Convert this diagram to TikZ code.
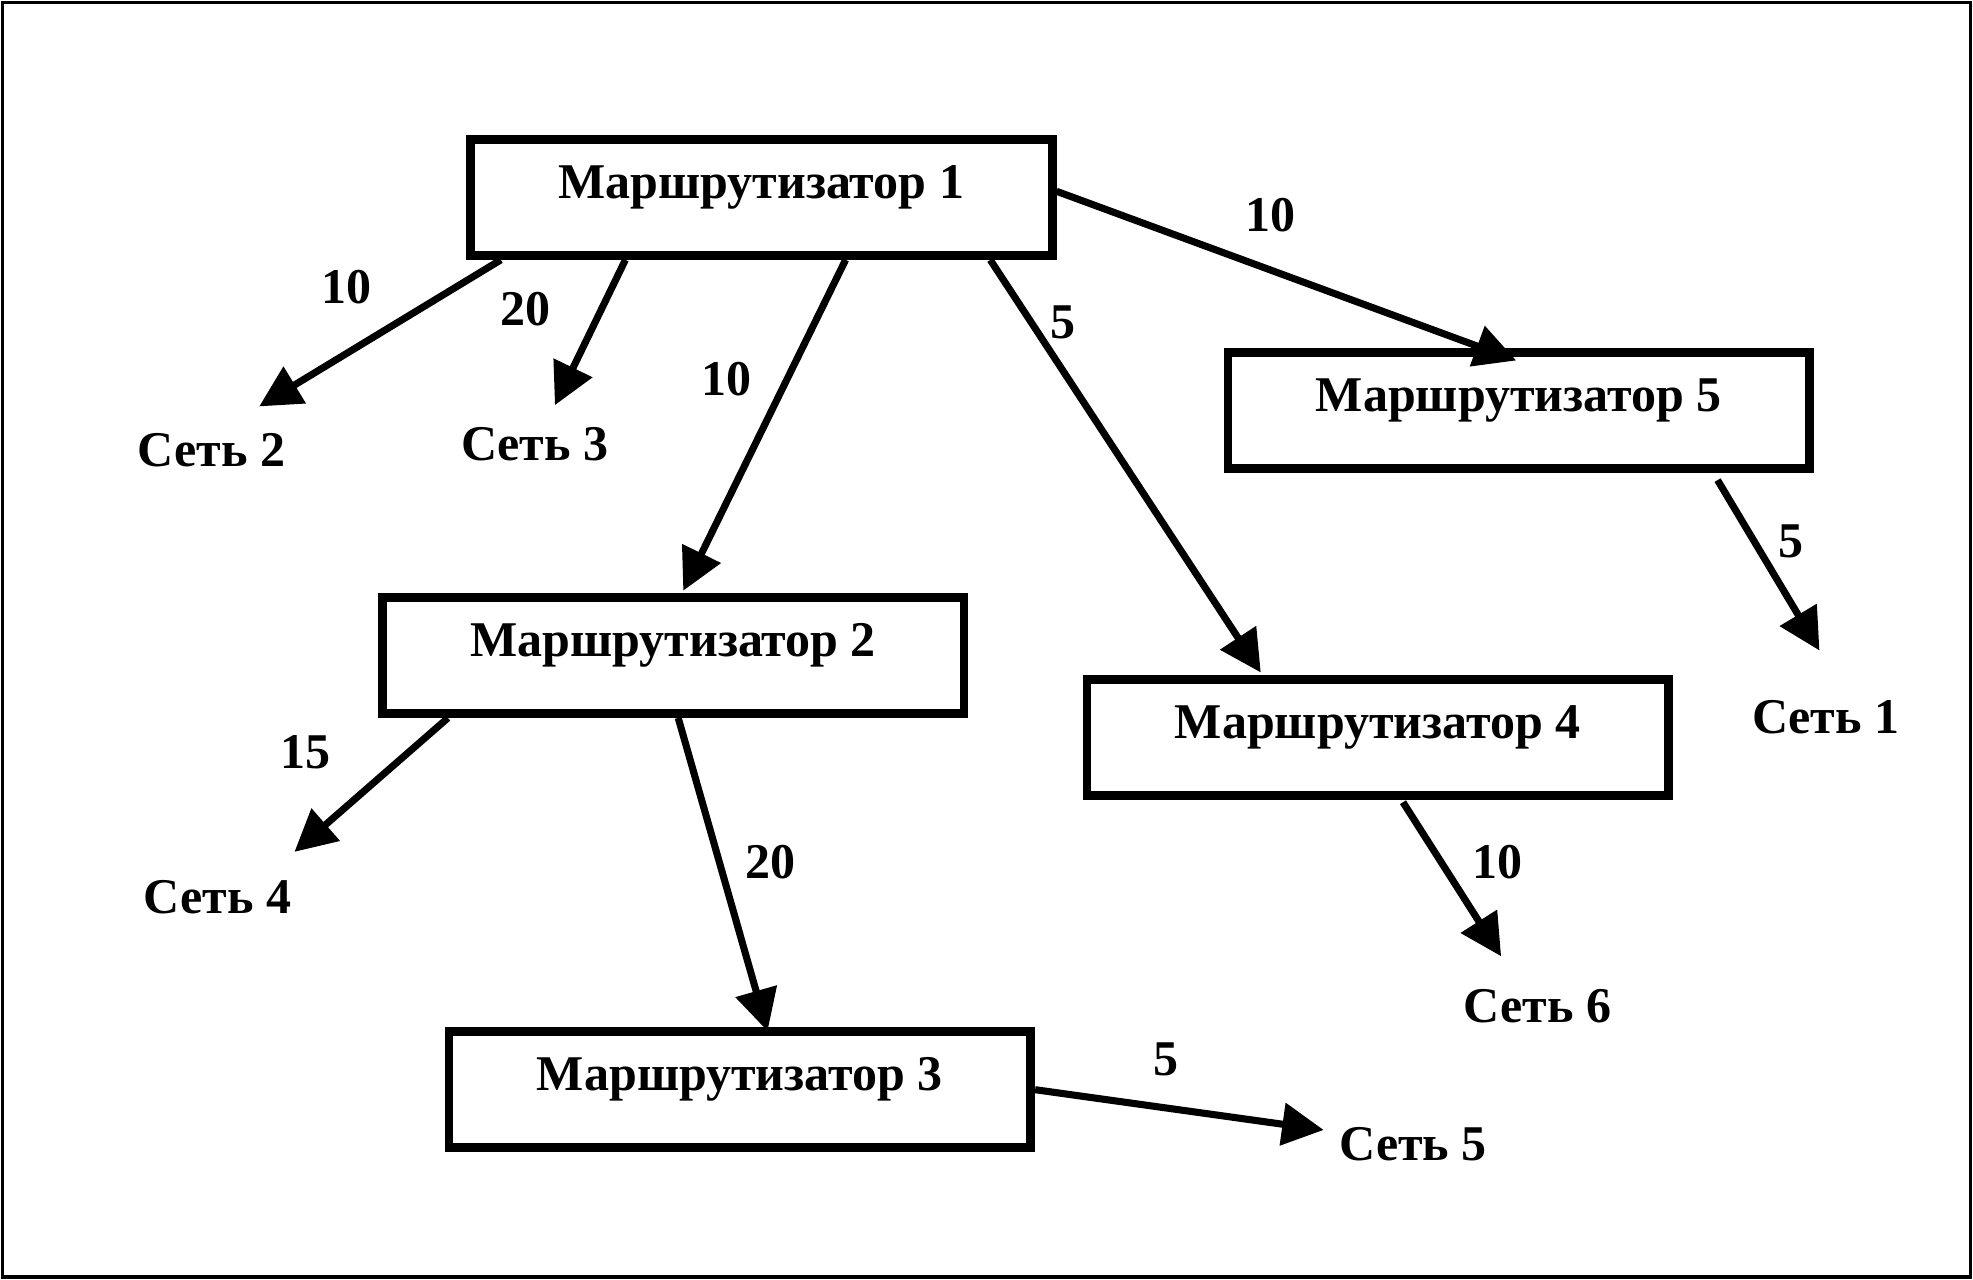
\documentclass[tikz,border=0pt]{standalone}
\usepackage{fontspec}
\setmainfont{Liberation Serif}
\usepackage{tikz}
\usetikzlibrary{arrows.meta}

\begin{document}
\begin{tikzpicture}[
  x=0.01cm, y=-0.01cm,
  router/.style={
    rectangle, minimum width=4.62cm, minimum height=0.92cm,
    draw=black, line width=2pt, text height=0.27cm, text depth=0.25cm,
    font=\fontsize{11.3pt}{13pt}\selectfont\bfseries
  },
  net/.style={font=\fontsize{11.3pt}{13pt}\selectfont\bfseries},
  arrow/.style={-{Triangle[length=0.33cm, width=0.33cm]}, line width=1.6pt, black},
  weight/.style={font=\fontsize{11.3pt}{13pt}\selectfont\bfseries}
]
\useasboundingbox (0,0) rectangle (1568,1017);
\draw[line width=0.8pt] (2,2) rectangle (1566,1015);

% === Routers ===
\node[router] (r1) at (605,157) {Маршрутизатор 1};
\node[router] (r5) at (1207,326) {Маршрутизатор 5};
\node[router] (r2) at (535,521) {Маршрутизатор 2};
\node[router] (r4) at (1095,586) {Маршрутизатор 4};
\node[router] (r3) at (588,866) {Маршрутизатор 3};

% === Networks ===
\node[net] (set1) at (1451,570) {Сеть 1};
\node[net] (set2) at (168,358) {Сеть 2};
\node[net] (set3) at (425,353) {Сеть 3};
\node[net] (set4) at (173,713) {Сеть 4};
\node[net] (set5) at (1123,909) {Сеть 5};
\node[net] (set6) at (1222,800) {Сеть 6};

% === Links ===
\draw[arrow] ([shift={(-207,0)}]r1.south) -- ([shift={(38,-35)}]set2.center);
\draw[arrow] ([shift={(-108,0)}]r1.south) -- ([shift={(16,-31)}]set3.center);
\draw[arrow] ([shift={(67,0)}]r1.south) -- ([shift={(8,-2)}]r2.north);
\draw[arrow] ([shift={(182,0)}]r1.south) -- ([shift={(-93,-2)}]r4.north);
\draw[arrow] ([shift={(0,-5)}]r1.east) -- ([shift={(-2,10)}]r5.north);
\draw[arrow] ([shift={(158,6)}]r5.south) -- ([shift={(-5,-53)}]set1.center);
\draw[arrow] ([shift={(-179,0)}]r2.south) -- ([shift={(61,-36)}]set4.center);
\draw[arrow] ([shift={(4,0)}]r2.south) -- ([shift={(22,3)}]r3.north);
\draw[arrow] ([shift={(20,2)}]r4.south) -- ([shift={(-29,-40)}]set6.center);
\draw[arrow] (r3.east) -- ([shift={(-71,-11)}]set5.center);

% === Metrics ===
\node[weight] (w12) at (275,228) {10};
\node[weight] (w13) at (418,246) {20};
\node[weight] (w1r2) at (577,301) {10};
\node[weight] (w1r4) at (845,256) {5};
\node[weight] (w1r5) at (1010,171) {10};
\node[weight] (w51) at (1423,430) {5};
\node[weight] (w24) at (243,598) {15};
\node[weight] (w2r3) at (612,685) {20};
\node[weight] (w46) at (1190,685) {10};
\node[weight] (w35) at (927,842) {5};

\end{tikzpicture}
\end{document}
